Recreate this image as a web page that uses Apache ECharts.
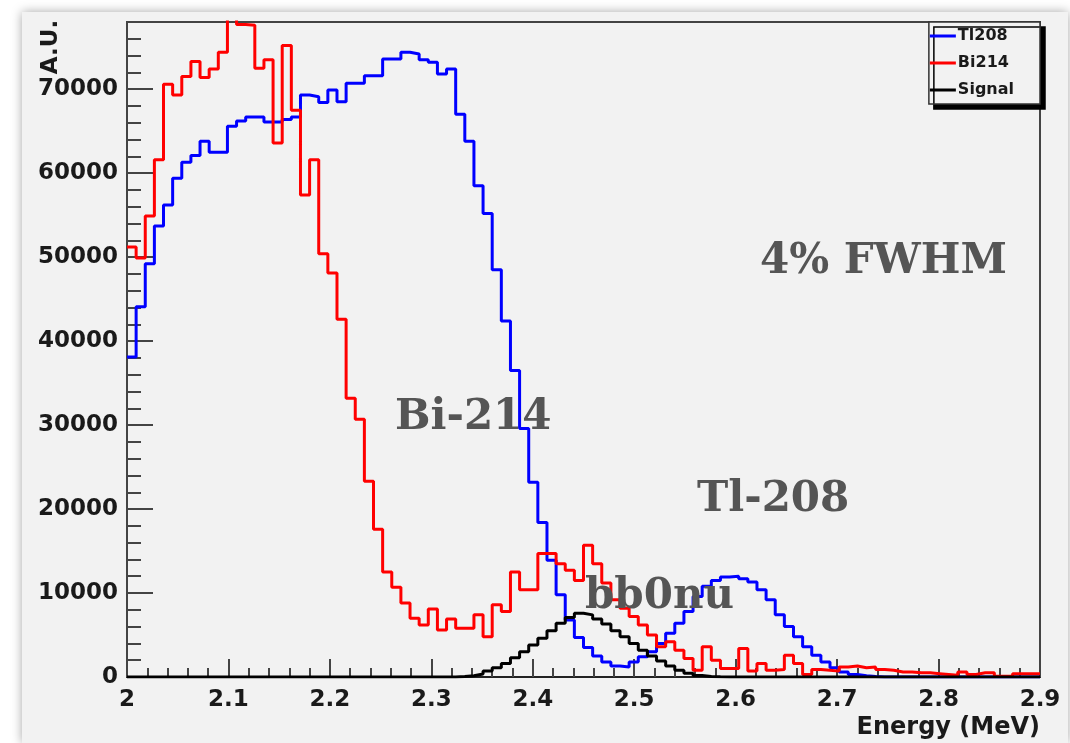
<!DOCTYPE html>
<html lang="en">
<head>
    <meta charset="UTF-8">
    <title>Tl208 / Bi214 / Signal</title>
    <script src="https://cdn.jsdelivr.net/npm/echarts@6.0.0/dist/echarts.min.js"></script>
    <style>
        * {
            margin: 0;
            padding: 0
        }

        html, body {
            width: 100%;
            height: 100%;
            background: #fff;
            overflow: hidden;
        }

        /* grey ROOT canvas with a soft shadow round it */
        #main {
            position: absolute;
            left: 22px;
            top: 12px;
            width: 1046px;
            height: 731px;
            background: #f2f2f2;
            box-shadow: 0 0 10px rgba(0, 0, 0, 0.35);
        }
    </style>
</head>
<body>
    <div id="main"></div>
</body>
<script type="text/javascript">
    /*---------------- histogram data: 100 bins from 2.0 to 2.9 MeV ----------------*/
    var xMin = 2.0;
    var xMax = 2.9;
    var nBins = 100;

    var seriesNames = ['Tl208', 'Bi214', 'Signal'];

    var tl208 = [
        38100, 44100, 49200, 53700, 56200, 59400, 61300, 62100, 63800, 62500,
        62500, 65600, 66200, 66700, 66700, 66100, 66100, 66400, 66700, 69300,
        69100, 68400, 69900, 68500, 70700, 70700, 71600, 71600, 73600, 73600,
        74400, 74200, 73500, 73200, 71800, 72400, 67000, 63800, 58500, 55200,
        48500, 42400, 36500, 29600, 23200, 18400, 13900, 9800, 6800, 4700,
        3500, 2500, 1800, 1300, 1200, 1800, 2400, 3000, 4000, 5200,
        6400, 7800, 9600, 10800, 11500, 11900, 12000, 11700, 11300, 10400,
        9200, 7400, 6000, 4800, 3600, 2600, 1800, 1100, 600, 300,
        150, 50, 0, 0, 0, 0, 0, 0, 0, 0,
        0, 0, 0, 0, 0, 0, 0, 0, 0, 0
    ];

    var bi214 = [
        51200, 49900, 54900, 61600, 70600, 69300, 71500, 73300, 71400, 72400,
        74400, 79000, 77700, 77600, 72500, 73500, 63600, 75200, 67500, 57400,
        61600, 50400, 48100, 42600, 33200, 30700, 23300, 17600, 12500, 10700,
        8800, 7000, 6200, 8100, 5600, 6900, 5800, 5800, 7400, 4800,
        8600, 7800, 12500, 10400, 10400, 14700, 14700, 13500, 12700, 11500,
        15700, 13500, 11200, 9200, 8200, 7200, 6200, 5000, 3600, 4200,
        3200, 2200, 800, 3600, 2000, 1000, 1000, 3400, 700, 1600,
        800, 900, 2600, 1600, 300, 900, 800, 700, 1200, 1300,
        1100, 1200, 900, 800, 600, 600, 500, 500, 400, 300,
        200, 600, 300, 500, 500, 100, 100, 400, 400, 400
    ];

    var signal = [
        0, 0, 0, 0, 0, 0, 0, 0, 0, 0,
        0, 0, 0, 0, 0, 0, 0, 0, 0, 0,
        0, 0, 0, 0, 0, 0, 0, 0, 0, 0,
        0, 0, 0, 0, 0, 0, 50, 150, 350, 700,
        1100, 1600, 2300, 3000, 3800, 4600, 5500, 6400, 7100, 7600,
        7400, 6900, 6300, 5500, 4800, 4000, 3200, 2500, 1900, 1300,
        800, 450, 180, 60, 20, 0, 0, 0, 0, 0,
        0, 0, 0, 0, 0, 0, 0, 0, 0, 0,
        0, 0, 0, 0, 0, 0, 0, 0, 0, 0,
        0, 0, 0, 0, 0, 0, 0, 0, 0, 0
    ];

    var yTicks = [0, 10000, 20000, 30000, 40000, 50000, 60000, 70000];

    var annotations = [
        {text: '4% FWHM', x: 738, y: 250},
        {text: 'Bi-214', x: 373, y: 406},
        {text: 'Tl-208', x: 675, y: 488},
        {text: 'bb0nu', x: 563, y: 585}
    ];

    // left bin edges + closing point so the step line covers the last bin
    function toSteps(counts) {
        var w = (xMax - xMin) / nBins;
        var pts = [];
        for (var i = 0; i < counts.length; i++) {
            pts.push([xMin + i * w, counts[i]]);
        }
        pts.push([xMax, counts[counts.length - 1]]);
        return pts;
    }

    var boldSans = '"DejaVu Sans", "Liberation Sans", sans-serif';

    var chart = echarts.init(document.getElementById('main'));

    chart.setOption({
        animation: false,
        backgroundColor: 'transparent',
        grid: {
            left: 105,
            top: 10,
            width: 913,
            height: 655,
            show: true,
            backgroundColor: '#f2f2f2',
            borderColor: '#444',
            borderWidth: 2
        },
        legend: {
            data: seriesNames,
            orient: 'vertical',
            right: 28,
            top: 10,
            icon: 'rect',
            itemWidth: 26,
            itemHeight: 3,
            itemGap: 9,
            padding: [5, 26, 5, 1],
            backgroundColor: '#f2f2f2',
            borderColor: '#333',
            borderWidth: 1.5,
            shadowColor: '#000',
            shadowBlur: 0,
            shadowOffsetX: 5,
            shadowOffsetY: 5,
            textStyle: {
                fontFamily: boldSans,
                fontWeight: 'bold',
                fontSize: 16,
                lineHeight: 18,
                color: '#1a1a1a',
                padding: [0, 0, 0, -3]
            }
        },
        xAxis: {
            type: 'value',
            min: xMin,
            max: xMax,
            interval: 0.1,
            axisLine: {lineStyle: {color: '#222', width: 2}},
            axisTick: {inside: true, length: 18, lineStyle: {color: '#444', width: 2}},
            minorTick: {show: true, splitNumber: 5, length: 9, lineStyle: {color: '#444', width: 2}},
            splitLine: {show: false},
            axisLabel: {
                margin: 12,
                fontFamily: boldSans,
                fontWeight: 'bold',
                fontSize: 23,
                color: '#1a1a1a',
                formatter: function (v) {
                    return String(+v.toFixed(1));
                }
            }
        },
        yAxis: {
            type: 'value',
            min: 0,
            max: 78000,
            interval: 10000,
            axisLine: {show: true, lineStyle: {color: '#444', width: 2}},
            axisTick: {inside: true, length: 26, lineStyle: {color: '#444', width: 2}},
            minorTick: {show: true, splitNumber: 5, length: 14, lineStyle: {color: '#444', width: 2}},
            splitLine: {show: false},
            axisLabel: {
                margin: 9,
                showMaxLabel: false,
                fontFamily: boldSans,
                fontWeight: 'bold',
                fontSize: 23,
                color: '#1a1a1a',
                formatter: function (v) {
                    return yTicks.indexOf(v) >= 0 ? String(v) : '';
                }
            }
        },
        graphic: [
            {
                type: 'text',
                x: 29,
                y: 35,
                rotation: Math.PI / 2,
                style: {
                    text: 'A.U.',
                    font: 'bold 23px ' + boldSans,
                    fill: '#1a1a1a',
                    textAlign: 'center',
                    textVerticalAlign: 'middle'
                }
            },
            {
                type: 'text',
                x: 1018,
                y: 716,
                style: {
                    text: 'Energy (MeV)',
                    font: 'bold 24px ' + boldSans,
                    fill: '#1a1a1a',
                    textAlign: 'right',
                    textVerticalAlign: 'middle'
                }
            }
        ].concat(annotations.map(function (a) {
            return {
                type: 'text',
                x: a.x,
                y: a.y,
                z: 100,
                style: {
                    text: a.text,
                    font: 'bold 42px "DejaVu Serif", serif',
                    fill: '#555',
                    textAlign: 'left',
                    textVerticalAlign: 'middle'
                }
            };
        })),
        series: [
            {
                name: 'Tl208',
                type: 'line',
                step: 'end',
                symbol: 'none',
                clip: true,
                lineStyle: {color: '#0000ff', width: 3},
                itemStyle: {color: '#0000ff'},
                data: toSteps(tl208)
            },
            {
                name: 'Bi214',
                type: 'line',
                step: 'end',
                symbol: 'none',
                clip: true,
                lineStyle: {color: '#ff0000', width: 3},
                itemStyle: {color: '#ff0000'},
                data: toSteps(bi214)
            },
            {
                name: 'Signal',
                type: 'line',
                step: 'end',
                symbol: 'none',
                clip: true,
                lineStyle: {color: '#000', width: 3},
                itemStyle: {color: '#000'},
                data: toSteps(signal)
            }
        ]
    });
</script>
</html>
